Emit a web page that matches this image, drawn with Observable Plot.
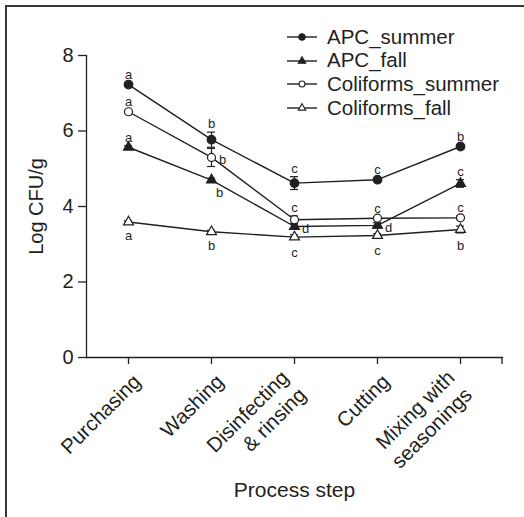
<!DOCTYPE html>
<html>
<head>
<meta charset="utf-8">
<script src="https://cdn.jsdelivr.net/npm/d3@7"></script>
<script src="https://cdn.jsdelivr.net/npm/@observablehq/plot@0.6"></script>
<style>
  html, body { margin: 0; padding: 0; background: #fff; }
  #wrap { position: relative; width: 524px; height: 517px; overflow: hidden; font-family: "Liberation Sans", Arial, sans-serif; color: #231f20; }
  .border-top { position: absolute; left: 5px; top: 5px; width: 519px; height: 1.5px; background: #3a3536; }
  .border-left { position: absolute; left: 5px; top: 5px; width: 1.5px; height: 512px; background: #3a3536; }
  #legend { position: absolute; left: 285px; top: 25px; }
  .lg-row { position: absolute; left: 0; height: 24px; white-space: nowrap; display: flex; align-items: center; }
  .lg-row svg { display: block; }
  .lg-row span { font-size: 20.5px; margin-left: 8px; line-height: 1; }
</style>
</head>
<body>
<div id="wrap">
  <div class="border-top"></div>
  <div class="border-left"></div>
  <div id="chart"></div>
  <div id="legend"></div>
</div>
<script>
// ---- data ----
const steps = ["Purchasing", "Washing", "Disinfecting\n& rinsing", "Cutting", "Mixing with\nseasonings"];
const seriesNames = ["APC_summer", "APC_fall", "Coliforms_summer", "Coliforms_fall"];

const apcSummer = [7.23, 5.77, 4.62, 4.71, 5.59];
const apcSummerErr = [0.05, 0.20, 0.17, 0.04, 0.04];
const apcSummerLetters = ["a", "b", "c", "c", "b"];

const apcFall = [5.57, 4.70, 3.47, 3.50, 4.61];
const apcFallErr = [0.04, 0.05, 0.06, 0.07, 0.10];
const apcFallLetters = ["a", "b", "d", "d", "c"];

const colSummer = [6.51, 5.30, 3.65, 3.69, 3.70];
const colSummerErr = [0.04, 0.24, 0.10, 0.04, 0.05];
const colSummerLetters = ["a", "b", "c", "c", "c"];

const colFall = [3.59, 3.33, 3.19, 3.23, 3.39];
const colFallErr = [0.03, 0.04, 0.06, 0.05, 0.09];
const colFallLetters = ["a", "b", "c", "c", "b"];

const yTicks = [0, 2, 4, 6, 8];

// ---- presentation (styles & label placement) ----
const ink = "#231f20";
const styles = {
  "APC_summer":       {symbol: "circle",   fill: ink,    r: 4.3},
  "APC_fall":         {symbol: "triangle", fill: ink,    r: 3.7},
  "Coliforms_summer": {symbol: "circle",   fill: "white", r: 4.0},
  "Coliforms_fall":   {symbol: "triangle", fill: "white", r: 3.7}
};
const placements = {
  "APC_summer":       ["above", "above", "above", "above", "above"],
  "APC_fall":         ["above", "belowRight", "right", "right", "above"],
  "Coliforms_summer": ["above", "right", "above", "above", "above"],
  "Coliforms_fall":   ["below", "below", "below", "below", "below"]
};

// ---- build table ----
const src = [
  [seriesNames[0], apcSummer, apcSummerErr, apcSummerLetters],
  [seriesNames[1], apcFall, apcFallErr, apcFallLetters],
  [seriesNames[2], colSummer, colSummerErr, colSummerLetters],
  [seriesNames[3], colFall, colFallErr, colFallLetters]
];
const rows = [];
for (const [name, vals, errs, letters] of src) {
  vals.forEach((v, i) => rows.push({series: name, step: steps[i], value: v, err: errs[i], letter: letters[i], place: placements[name][i]}));
}

const fontSize = 20;
const letterMarks = [];
const placeCfg = {
  above: {y: d => d.value + d.err, dx: 0, dy: -8},
  below: {y: d => d.value - d.err, dx: 0, dy: 13},
  right: {y: d => d.value, dx: 11, dy: 2},
  belowRight: {y: d => d.value, dx: 8, dy: 13}
};
for (const [p, cfg] of Object.entries(placeCfg)) {
  letterMarks.push(Plot.text(rows.filter(d => d.place === p), {
    x: "step", y: cfg.y, text: "letter", dx: cfg.dx, dy: cfg.dy,
    fontSize: 13, fill: ink
  }));
}

const dotMarks = seriesNames.map(name => Plot.dot(rows.filter(d => d.series === name), {
  x: "step", y: "value", symbol: styles[name].symbol, r: styles[name].r,
  fill: styles[name].fill, stroke: ink, strokeWidth: 1.2
}));

const tickLabelOpts = {
  x: d => d, frameAnchor: "bottom", text: d => d, rotate: -45,
  textAnchor: "end", lineAnchor: "top", lineHeight: 1.2,
  fontSize: 20.5, fill: ink
};

const chart = Plot.plot({
  width: 524,
  height: 517,
  marginLeft: 86,
  marginRight: 22,
  marginTop: 55,
  marginBottom: 160,
  style: {fontFamily: "'Liberation Sans', Arial, sans-serif", color: ink, background: "transparent", overflow: "visible"},
  x: {type: "point", domain: steps, padding: 0.5, axis: null},
  y: {domain: [0, 8], axis: null},
  marks: [
    Plot.frame({anchor: "left", stroke: ink, strokeWidth: 1.3}),
    Plot.frame({anchor: "bottom", stroke: ink, strokeWidth: 1.3}),
    Plot.axisY({ticks: yTicks, tickSize: 8, tickPadding: 5, fontSize, label: null, stroke: ink, strokeWidth: 1.3}),
    Plot.axisX({tickSize: 7, tickFormat: () => "", label: null, stroke: ink, strokeWidth: 1.3}),
    // end tick at the right end of the x axis
    (index, scales, values, dim) => {
      const g = d3.create("svg:line")
        .attr("x1", dim.width - dim.marginRight).attr("x2", dim.width - dim.marginRight)
        .attr("y1", dim.height - dim.marginBottom).attr("y2", dim.height - dim.marginBottom + 7)
        .attr("stroke", ink).attr("stroke-width", 1.3);
      return g.node();
    },
    Plot.text(steps.filter(s => !s.includes("\n")), {...tickLabelOpts, dx: 1, dy: 13}),
    Plot.text(steps.filter(s => s.includes("\n")), {...tickLabelOpts, dx: -17, dy: 9, ariaLabel: "xlabels2"}),
    Plot.text(["Log CFU/g"], {frameAnchor: "left", textAnchor: "middle", dx: -50, rotate: -90, fontSize, fill: ink}),
    Plot.text(["Process step"], {frameAnchor: "bottom", textAnchor: "middle", dy: 139, fontSize: 21, fill: ink}),
    ...seriesNames.map(name => Plot.line(rows.filter(d => d.series === name), {
      x: "step", y: "value", stroke: ink, strokeWidth: 1.4
    })),
    Plot.ruleX(rows, {x: "step", y1: d => d.value - d.err, y2: d => d.value + d.err, stroke: ink, strokeWidth: 1.2}),
    Plot.ruleY(rows, {x1: "step", x2: "step", y: d => d.value + d.err, insetLeft: -4, insetRight: -4, stroke: ink, strokeWidth: 1.2}),
    Plot.ruleY(rows, {x1: "step", x2: "step", y: d => d.value - d.err, insetLeft: -4, insetRight: -4, stroke: ink, strokeWidth: 1.2}),
    ...dotMarks,
    ...letterMarks
  ]
});
document.getElementById("chart").appendChild(chart);

// center the second line of two-line tick labels under the first
chart.querySelectorAll('g[aria-label="xlabels2"] text').forEach(t => {
  const ts = t.querySelectorAll("tspan");
  if (ts.length === 2) {
    const w1 = ts[0].getComputedTextLength(), w2 = ts[1].getComputedTextLength();
    ts[1].setAttribute("x", -(w1 - w2) / 2);
  }
});

// legend
const legend = d3.select("#legend");
const legendTop = [0, 23.7, 47.4, 71.1];
seriesNames.forEach((name, i) => {
  const row = legend.append("div").attr("class", "lg-row").style("top", legendTop[i] + "px");
  const svg = row.append("svg").attr("width", 34).attr("height", 24);
  svg.append("line").attr("x1", 2).attr("x2", 32).attr("y1", 12).attr("y2", 12).attr("stroke", ink).attr("stroke-width", 1.4);
  const st = styles[name];
  const sym = st.symbol === "circle" ? d3.symbolCircle : d3.symbolTriangle;
  const r = st.r * 0.75;
  svg.append("path").attr("d", d3.symbol(sym, Math.PI * r * r)()).attr("transform", "translate(17,12)")
    .attr("fill", st.fill).attr("stroke", ink).attr("stroke-width", 1.1);
  row.append("span").text(name);
});
</script>
</body>
</html>
